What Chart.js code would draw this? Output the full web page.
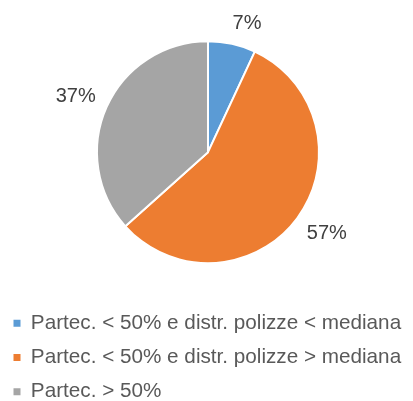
<!DOCTYPE html>
<html>
<head>
<meta charset="utf-8">
<script src="https://cdn.jsdelivr.net/npm/chart.js@4/dist/chart.umd.min.js"></script>
<style>
    html, body { margin: 0; padding: 0; background: #fff; overflow: hidden; }
    #wrap { position: relative; width: 416px; height: 412px; }
</style>
</head>
<body>
<div id="wrap"><canvas id="pie"></canvas></div>
<script>
// ---- Data ----
const categories = [
    'Partec. < 50% e distr. polizze < mediana',
    'Partec. < 50% e distr. polizze > mediana',
    'Partec. > 50%'
];
const shares = [7, 57, 37];
const sliceColors = ['#5B9BD5', '#ED7D31', '#A5A5A5'];

const clamp = v => Math.max(-1, Math.min(1, v));

// labels outside the slices: anchor a point just off the rim, then hang the text box off it
const outsideLabels = {
    id: 'outsideLabels',
    afterDatasetsDraw(chart) {
        const ctx = chart.ctx;
        const meta = chart.getDatasetMeta(0);
        ctx.save();
        ctx.font = '20px "Liberation Sans", Arial, sans-serif';
        ctx.fillStyle = '#404040';
        ctx.textAlign = 'center';
        ctx.textBaseline = 'middle';
        meta.data.forEach((arc, i) => {
            const p = arc.getProps(['x', 'y', 'startAngle', 'endAngle', 'outerRadius'], true);
            const mid = (p.startAngle + p.endAngle) / 2;
            const text = shares[i] + '%';
            const w = ctx.measureText(text).width;
            const h = 18;
            const cx = Math.cos(mid), cy = Math.sin(mid);
            const r = p.outerRadius + 12;
            const x = p.x + cx * r + clamp(cx * 4) * w / 2;
            const y = p.y + cy * r + clamp(cy * 1.5) * h / 2;
            ctx.fillText(text, x, y);
        });
        ctx.restore();
    }
};

new Chart(document.getElementById('pie'), {
    type: 'pie',
    data: {
        labels: categories,
        datasets: [{
            data: shares,
            backgroundColor: sliceColors,
            borderColor: '#ffffff',
            borderWidth: 2,
            radius: 111
        }]
    },
    options: {
        responsive: true,
        maintainAspectRatio: false,
        animation: false,
        layout: { padding: { top: 5, left: 0, right: 0, bottom: 0 } },
        plugins: {
            legend: {
                position: 'bottom',
                align: 'start',
                labels: {
                    boxWidth: 7,
                    boxHeight: 7,
                    padding: 13.5,
                    color: '#595959',
                    font: { family: '"Liberation Sans", Arial, sans-serif', size: 20.7 },
                    generateLabels(chart) {
                        return Chart.overrides.pie.plugins.legend.labels.generateLabels(chart).map(item => {
                            item.lineWidth = 0;
                            item.strokeStyle = item.fillStyle;
                            return item;
                        });
                    }
                }
            },
            tooltip: { enabled: false }
        }
    },
    plugins: [outsideLabels]
});
</script>
</body>
</html>
